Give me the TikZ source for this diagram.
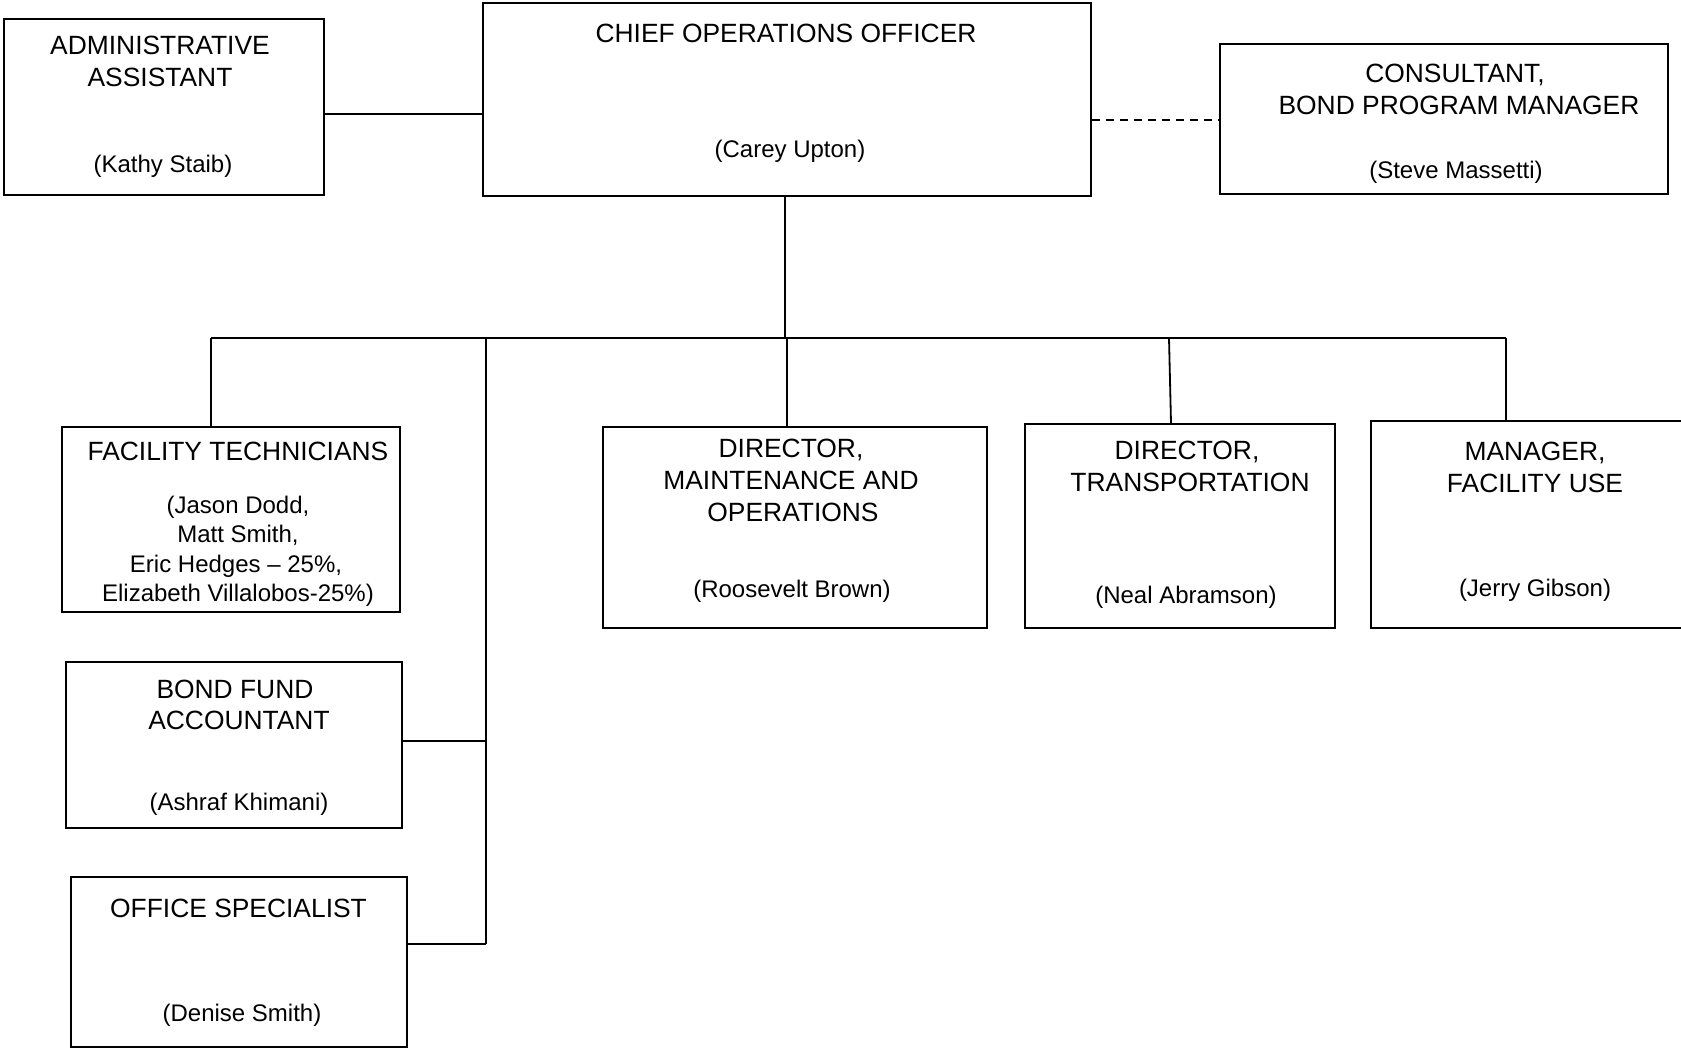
\documentclass[tikz,border=0pt]{standalone}
\usepackage{fontspec}
\setmainfont{Liberation Sans}
\begin{document}
\begin{tikzpicture}[x=1pt,y=-1pt,
  box/.style={draw, line width=1.8pt, rectangle, inner sep=0pt, anchor=north west},
  ttl/.style={anchor=base, inner sep=0pt, font=\fontsize{26.4}{32}\selectfont},
  nm/.style={anchor=base, inner sep=0pt, font=\fontsize{24}{29.3}\selectfont},
  conn/.style={line width=1.8pt},
  dconn/.style={line width=1.8pt, dash pattern=on 8pt off 6pt}]
\useasboundingbox (0,0) rectangle (1681,1047);
% boxes
\node[box, minimum width=320pt, minimum height=176pt] (admin) at (3,18) {};
\node[box, minimum width=608pt, minimum height=193pt] (coo) at (482,2) {};
\node[box, minimum width=448pt, minimum height=150pt] (cons) at (1219,43) {};
\node[box, minimum width=338pt, minimum height=185pt] (ft) at (61,426) {};
\node[box, minimum width=384pt, minimum height=201pt] (mo) at (602,426) {};
\node[box, minimum width=310pt, minimum height=204pt] (tr) at (1024,423) {};
\node[box, minimum width=330pt, minimum height=207pt] (mgr) at (1370,420) {};
\node[box, minimum width=336pt, minimum height=166pt] (bond) at (65,661) {};
\node[box, minimum width=336pt, minimum height=170pt] (office) at (70,876) {};
% texts
\node[ttl] (adminA) at (160,54.5) {ADMINISTRATIVE};
\node[ttl] (adminB) at (160,86.5) {ASSISTANT};
\node[nm] (adminN) at (163,172.6) {(Kathy Staib)};
\node[ttl] (cooA) at (786,42.5) {CHIEF OPERATIONS OFFICER};
\node[nm] (cooN) at (790,157.6) {(Carey Upton)};
\node[ttl] (consA) at (1455,82.5) {CONSULTANT,};
\node[ttl] (consB) at (1459,114.5) {BOND PROGRAM MANAGER};
\node[nm] (consN) at (1456,178.6) {(Steve Massetti)};
\node[ttl] (ftA) at (238,460.5) {FACILITY TECHNICIANS};
\node[nm] (ftN1) at (238,513.6) {(Jason Dodd,};
\node[nm] (ftN2) at (238,542.9) {Matt Smith,};
\node[nm] (ftN3) at (236,572.2) {Eric Hedges – 25\%,};
\node[nm] (ftN4) at (238,601.5) {Elizabeth Villalobos-25\%)};
\node[ttl] (moA) at (791,457.5) {DIRECTOR,};
\node[ttl] (moB) at (791,489.5) {MAINTENANCE AND};
\node[ttl] (moC) at (793,521.5) {OPERATIONS};
\node[nm] (moN) at (792,597.6) {(Roosevelt Brown)};
\node[ttl] (trA) at (1187,459.5) {DIRECTOR,};
\node[ttl] (trB) at (1190,491.5) {TRANSPORTATION};
\node[nm] (trN) at (1186,603.6) {(Neal Abramson)};
\node[ttl] (mgrA) at (1535,460.5) {MANAGER,};
\node[ttl] (mgrB) at (1535,492.5) {FACILITY USE};
\node[nm] (mgrN) at (1535,596.6) {(Jerry Gibson)};
\node[ttl] (bondA) at (235,698.5) {BOND FUND};
\node[ttl] (bondB) at (239,729.5) {ACCOUNTANT};
\node[nm] (bondN) at (239,810.6) {(Ashraf Khimani)};
\node[ttl] (offA) at (238.5,917.5) {OFFICE SPECIALIST};
\node[nm] (offN) at (242,1021.6) {(Denise Smith)};
% connector coordinates
\coordinate (busL) at (211,338);
\coordinate (busR) at (1506,338);
\coordinate (cooDrop) at (785,338);
\coordinate (trunkTop) at (486,338);
\coordinate (trunkBot) at (486,944);
\coordinate (bondJ) at (486,741);
\coordinate (moTop) at (787,338);
\coordinate (trTop) at (1169,338);
\coordinate (trEnd) at (1171,423);
% connectors
\draw[conn] (admin.east |- 0,113.6) -- (coo.west |- 0,113.6);
\draw[dconn] (coo.east |- 0,120) -- (cons.west |- 0,120);
\draw[conn] (cooDrop |- coo.south) -- (cooDrop);
\draw[conn] (busL) -- (busR);
\draw[conn] (busL) -- (busL |- ft.north);
\draw[conn] (trunkTop) -- (trunkBot);
\draw[conn] (moTop) -- (moTop |- mo.north);
\draw[conn] (trTop) -- (trEnd);
\draw[conn] (busR) -- (busR |- mgr.north);
\draw[conn] (bond.east |- bondJ) -- (bondJ);
\draw[conn] (office.east |- trunkBot) -- (trunkBot);
\end{tikzpicture}
\end{document}
